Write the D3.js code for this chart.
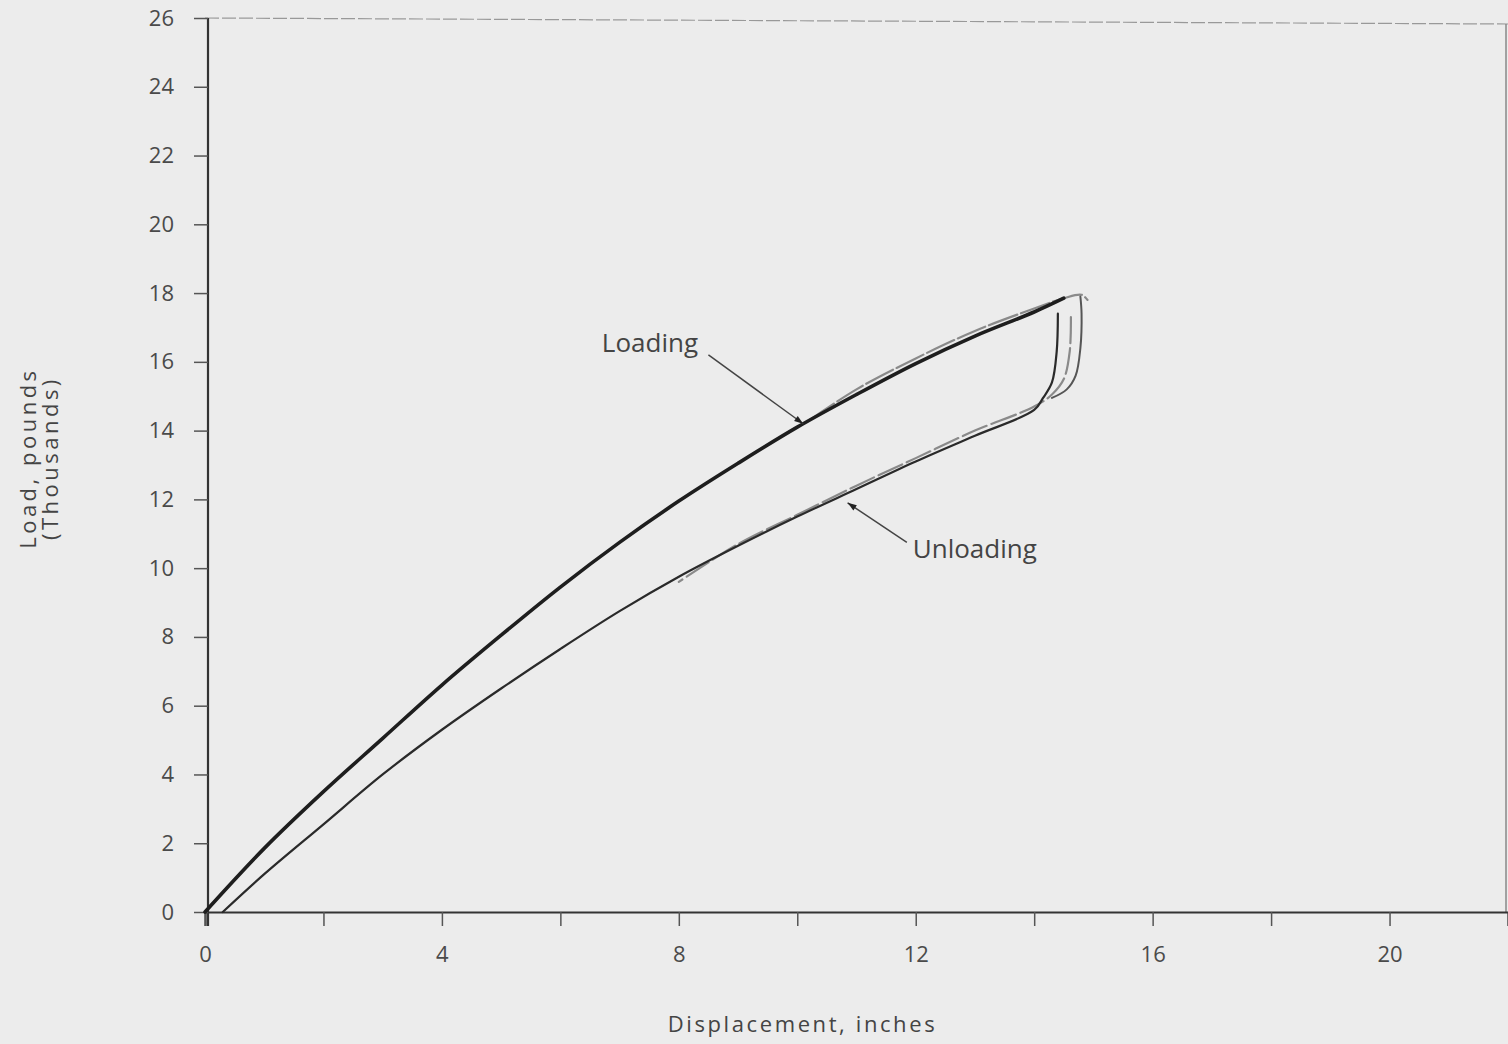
<!DOCTYPE html>
<html>
<head>
<meta charset="utf-8">
<script src="https://cdn.jsdelivr.net/npm/d3@7"></script>
<style>
  body { margin: 0; background: #ececec; }
  text { font-family: "Open Sans", "DejaVu Sans", sans-serif; fill: #444; }
</style>
</head>
<body>
<div id="viz"></div>
<script>
var width = 1508;
var height = 1044;

var xTicks = [0, 2, 4, 6, 8, 10, 12, 14, 16, 18, 20, 22];
var xLabels = [0, 4, 8, 12, 16, 20];
var yTicks = [0, 2, 4, 6, 8, 10, 12, 14, 16, 18, 20, 22, 24, 26];

// displacement (in) / load (thousand lb)
var loadX = [0, 1, 2, 3, 4, 5, 6, 7, 8, 9, 10, 11, 12, 13, 14, 14.5];
var loadY = [0, 1.85, 3.5, 5.05, 6.6, 8.05, 9.45, 10.75, 11.95, 13.05, 14.1, 15.05, 15.95, 16.75, 17.45, 17.85];

var load2X = [10.2, 11, 12, 13, 14, 14.5, 14.8, 14.9];
var load2Y = [14.3, 15.2, 16.1, 16.9, 17.55, 17.85, 17.95, 17.8];

var unloadX = [14.4, 14.38, 14.3, 14.15, 14, 13, 12, 11, 10, 9, 8, 7, 6, 5, 4, 3, 2, 1, 0.3];
var unloadY = [17.4, 16.3, 15.4, 14.95, 14.6, 13.85, 13.1, 12.3, 11.5, 10.65, 9.75, 8.75, 7.65, 6.5, 5.3, 4.0, 2.55, 1.1, 0];

var unload2X = [14.62, 14.6, 14.5, 14.3, 14, 13, 12, 11, 10, 9, 8];
var unload2Y = [17.3, 16.3, 15.5, 15.05, 14.7, 14.0, 13.2, 12.4, 11.55, 10.7, 9.6];

var unload3X = [14.78, 14.8, 14.78, 14.7, 14.55, 14.3];
var unload3Y = [17.9, 17.4, 16.4, 15.6, 15.2, 14.95];

var noteText = ["Loading", "Unloading"];
var noteAt = [[6.7, 16.3], [11.95, 10.3]];
var noteTip = [[10.1, 14.2], [10.85, 11.9]];
var noteFrom = [[8.5, 16.2], [11.85, 10.75]];

var margin = {left: 205, right: 0, top: 18, bottom: 132};

var x = d3.scaleLinear()
	.domain([0, 22])
	.range([margin.left, width - margin.right]);

var y = d3.scaleLinear()
	.domain([0, 26])
	.range([height - margin.bottom, margin.top]);

var svg = d3.select("#viz").append("svg")
	.attr("width", width)
	.attr("height", height);

svg.append("rect")
	.attr("width", width)
	.attr("height", height)
	.style("fill", "#ececec");

// frame: faint top and right edges
svg.append("line")
	.attr("x1", x(0)).attr("x2", x(22))
	.attr("y1", y(26)).attr("y2", y(26) + 6)
	.style("stroke", "#999")
	.style("stroke-width", 1.2)
	.style("stroke-dasharray", "14,3");

svg.append("line")
	.attr("x1", x(22) - 2).attr("x2", x(22) - 2)
	.attr("y1", y(26) + 6).attr("y2", y(0))
	.style("stroke", "#888")
	.style("stroke-width", 1.5);

var xAxis = d3.axisBottom(x)
	.tickValues(xTicks)
	.tickSize(14)
	.tickPadding(20)
	.tickFormat(function(d) { return xLabels.indexOf(d) >= 0 ? d : ""; });

var gx = svg.append("g")
	.attr("transform", "translate(0," + y(0) + ")")
	.call(xAxis);

var yAxis = d3.axisLeft(y)
	.tickValues(yTicks)
	.tickSize(14)
	.tickPadding(20);

var gy = svg.append("g")
	.attr("transform", "translate(" + (x(0) + 3) + ",0)")
	.call(yAxis);

[gx, gy].forEach(function(g) {
	g.select(".domain").style("stroke", "#333").style("stroke-width", 2.2);
	g.selectAll(".tick line").style("stroke", "#555").style("stroke-width", 1.5);
	g.selectAll(".tick text")
		.style("font-family", "'Open Sans', sans-serif")
		.style("font-size", "22px")
		.style("fill", "#4a4a4a");
});
gy.select(".domain").attr("d", "M0," + y(26) + "V" + (y(0) + 14));

svg.append("text")
	.attr("x", (x(0) + x(22)) / 2 - 54)
	.attr("y", 1032)
	.attr("text-anchor", "middle")
	.style("font-size", "22px")
	.style("letter-spacing", "2.6px")
	.text("Displacement, inches");

var yTitle = svg.append("text")
	.attr("transform", "translate(36," + y(13.2) + ") rotate(-90)")
	.attr("text-anchor", "middle")
	.style("font-size", "22px")
	.style("letter-spacing", "3.5px");
yTitle.append("tspan").attr("x", 0).attr("dy", 0).text("Load, pounds");
yTitle.append("tspan").attr("x", 0).attr("dy", 22).text("(Thousands)");

var line = d3.line()
	.x(function(d) { return x(d[0]); })
	.y(function(d) { return y(d[1]); })
	.curve(d3.curveCatmullRom.alpha(0.5));

var pairs = function(xs, ys) {
	return xs.map(function(v, i) { return [v, ys[i]]; });
};

var curves = [
	{pts: pairs(load2X, load2Y), stroke: "#8a8a8a", w: 2.2, dash: "30,4"},
	{pts: pairs(unload2X, unload2Y), stroke: "#8a8a8a", w: 2.2, dash: "26,5"},
	{pts: pairs(unload3X, unload3Y), stroke: "#555", w: 2, dash: null},
	{pts: pairs(unloadX, unloadY), stroke: "#2a2a2a", w: 2.2, dash: null},
	{pts: pairs(loadX, loadY), stroke: "#1e1e1e", w: 3.6, dash: null}
];

svg.selectAll(".curve")
	.data(curves)
	.enter().append("path")
		.attr("class", "curve")
		.attr("d", function(d) { return line(d.pts); })
		.style("fill", "none")
		.style("stroke", function(d) { return d.stroke; })
		.style("stroke-width", function(d) { return d.w; })
		.style("stroke-dasharray", function(d) { return d.dash; })
		.style("stroke-linecap", "round");

svg.append("defs").append("marker")
	.attr("id", "arrow")
	.attr("viewBox", "0 0 10 10")
	.attr("refX", 10).attr("refY", 5)
	.attr("markerWidth", 9).attr("markerHeight", 6)
	.attr("orient", "auto")
	.append("path")
		.attr("d", "M0,1.5L10,5L0,8.5Z")
		.style("fill", "#222");

noteText.forEach(function(t, i) {
	svg.append("line")
		.attr("x1", x(noteFrom[i][0])).attr("y1", y(noteFrom[i][1]))
		.attr("x2", x(noteTip[i][0])).attr("y2", y(noteTip[i][1]))
		.style("stroke", "#444")
		.style("stroke-width", 1.5)
		.attr("marker-end", "url(#arrow)");

	svg.append("text")
		.attr("x", x(noteAt[i][0]))
		.attr("y", y(noteAt[i][1]))
		.style("font-size", "26px")
		.text(t);
});
</script>
</body>
</html>
